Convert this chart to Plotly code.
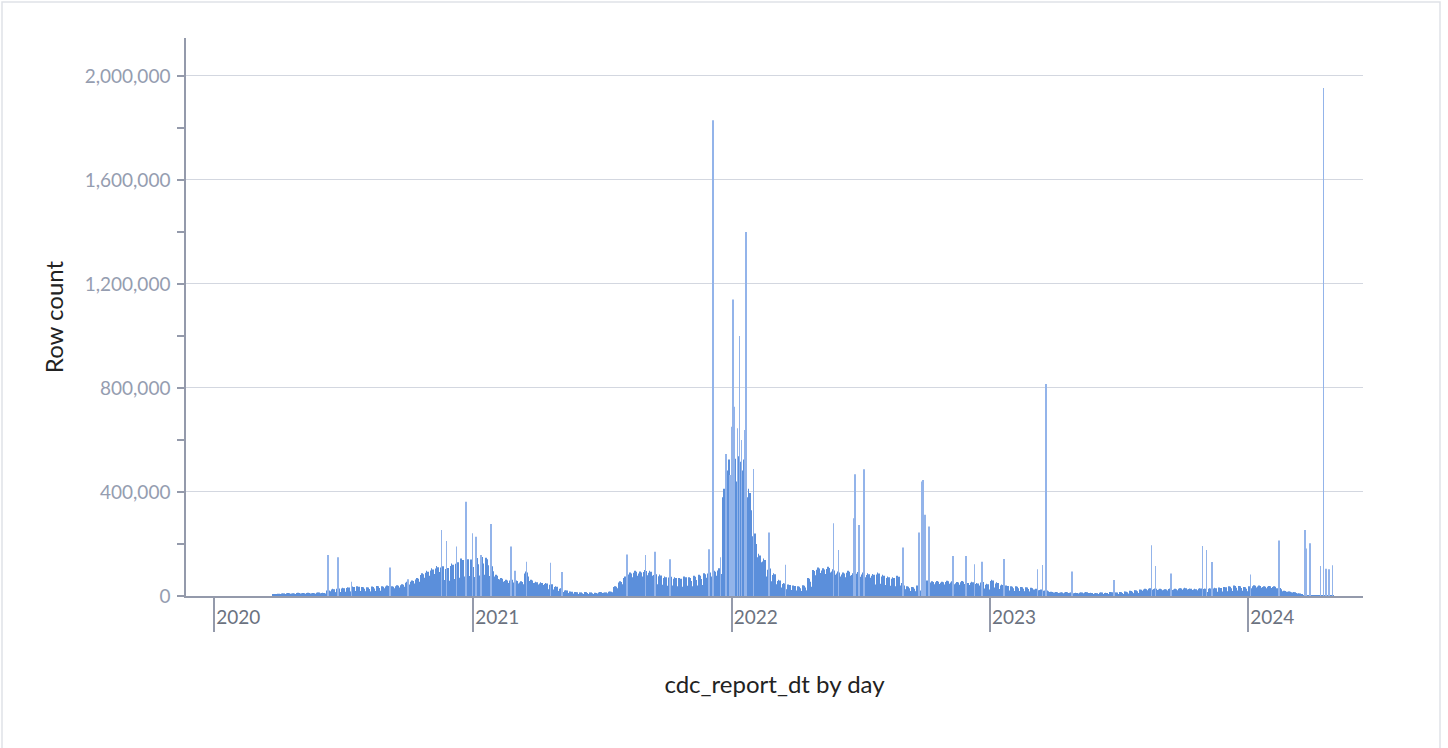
import pandas as pd
import plotly.graph_objects as go

# ---- data ----
week_start = "2020-03-23"  # a Monday
weekly_values = [
    # 2020 Mar-Dec
    4000, 7000,
    8000, 9000, 8000, 10000,
    9000, 10000, 9000, 11000,
    10000, 18000, 22000, 24000, 25000,
    27000, 29000, 30000, 28000,
    27000, 29000, 31000, 30000, 32000,
    30000, 33000, 36000, 44000,
    48000, 55000, 70000, 78000,
    85000, 92000, 95000, 90000, 100000,
    108000, 115000, 118000, 112000,
    # 2021
    122000, 125000, 118000, 95000,
    65000, 55000, 50000, 52000,
    48000, 45000, 75000, 50000, 44000,
    42000, 40000, 38000, 30000,
    24000, 18000, 14000, 12000, 11000,
    12000, 11000, 10000, 12000,
    11000, 14000, 30000, 45000,
    60000, 72000, 78000, 75000, 80000,
    78000, 70000, 66000, 60000,
    62000, 58000, 55000, 60000,
    58000, 62000, 65000, 70000, 75000,
    78000, 85000, 330000, 420000,
    # 2022
    440000, 430000, 420000, 330000, 200000,
    130000, 115000, 88000, 70000,
    50000, 40000, 35000, 32000,
    30000, 33000, 55000, 80000,
    88000, 85000, 90000, 82000, 75000,
    72000, 78000, 70000, 74000,
    72000, 70000, 68000, 72000,
    65000, 60000, 58000, 62000, 40000,
    30000, 28000, 32000, 45000,
    48000, 45000, 46000, 44000, 47000,
    45000, 43000, 46000, 42000,
    44000, 40000, 45000, 38000,
    # 2023
    50000, 42000, 35000, 32000, 30000,
    30000, 28000, 27000, 25000,
    22000, 20000, 18000, 13000,
    12000, 11000, 12000, 11000,
    10000, 11000, 12000, 10000, 9000,
    11000, 10000, 12000, 11000,
    12000, 14000, 16000, 18000, 20000,
    22000, 24000, 23000, 22000,
    21000, 23000, 22000, 24000,
    25000, 23000, 22000, 24000, 23000,
    24000, 25000, 26000, 28000,
    30000, 32000, 31000, 28000,
    # 2024
    30000, 33000, 32000, 30000, 31000,
    30000, 26000, 16000, 14000,
    12000, 8000, 3000, 2500,
    2000, 2500, 2000, 2500, 2000,
]
# typical weekday profile (Mon..Sun), relative to the weekly level
weekday_factor = [1.15, 1.25, 1.1, 1.2, 1.0, 0.65, 0.6]
last_day = "2024-04-30"

spike_dates = [
    "2020-06-10", "2020-06-24", "2020-07-13", "2020-09-05", "2020-10-01",
    "2020-11-17", "2020-11-24", "2020-12-08", "2020-12-22", "2020-12-31",
    "2021-01-05", "2021-01-12", "2021-01-26", "2021-02-23", "2021-03-01",
    "2021-03-17", "2021-04-20", "2021-05-06", "2021-08-06", "2021-09-01",
    "2021-09-15", "2021-10-06", "2021-11-30", "2021-12-06", "2021-12-16",
    "2021-12-24", "2021-12-30", "2022-01-01", "2022-01-03", "2022-01-04",
    "2022-01-09", "2022-01-12", "2022-01-15", "2022-01-20", "2022-01-21",
    "2022-02-01", "2022-02-23", "2022-03-18", "2022-05-25", "2022-06-01",
    "2022-06-23", "2022-06-24", "2022-06-30", "2022-07-07", "2022-08-31",
    "2022-09-23", "2022-09-27", "2022-09-28", "2022-10-01", "2022-10-07",
    "2022-11-10", "2022-11-28", "2022-12-10", "2022-12-21", "2023-01-21",
    "2023-03-09", "2023-03-16", "2023-03-21", "2023-04-27", "2023-06-25",
    "2023-08-17", "2023-08-23", "2023-09-14", "2023-10-28", "2023-11-03",
    "2023-11-11", "2024-01-04", "2024-02-13", "2024-03-21", "2024-03-23",
    "2024-03-28", "2024-04-12", "2024-04-16", "2024-04-20", "2024-04-24",
    "2024-04-29",
]
spike_values = [
    158000, 149000, 55000, 110000, 64000,
    254000, 212000, 190000, 362000, 241000,
    228000, 158000, 277000, 190000, 97000,
    132000, 128000, 92000, 160000, 158000,
    170000, 141000, 180000, 1830000, 149000,
    546000, 465000, 651000, 1140000, 728000,
    645000, 1000000, 600000, 638000, 1400000,
    488000, 244000, 120000, 280000, 177000,
    299000, 468000, 273000, 487000, 187000,
    244000, 440000, 446000, 312000, 267000,
    154000, 154000, 122000, 132000, 142000,
    103000, 119000, 815000, 94000, 62000,
    195000, 115000, 87000, 192000, 177000,
    131000, 83000, 213000, 254000, 183000,
    203000, 115000, 1954000, 105000, 103000,
    118000,
]

y_tick_values = [0, 400000, 800000, 1200000, 1600000, 2000000]
x_tick_values = ["2020-01-01", "2021-01-01", "2022-01-01", "2023-01-01", "2024-01-01"]
x_tick_labels = ["2020", "2021", "2022", "2023", "2024"]

# ---- build daily series ----
start = pd.Timestamp(week_start)
spike_set = {pd.Timestamp(d) for d in spike_dates}
base_x, base_y = [], []
for d in pd.date_range(week_start, last_day, freq="D"):
    off = (d - start).days
    idx = off // 7
    if idx < len(weekly_values) and d not in spike_set:
        base_x.append(d)
        base_y.append(round(weekly_values[idx] * weekday_factor[off % 7]))

fig = go.Figure()
fig.add_trace(go.Bar(
    x=base_x, y=base_y,
    marker=dict(color="#5b8fdb", line=dict(width=0)),
    hovertemplate="%{x|%b %d, %Y}<br>%{y:,}<extra></extra>",
))
fig.add_trace(go.Bar(
    x=pd.to_datetime(spike_dates), y=spike_values,
    marker=dict(color="#93b4ea", line=dict(width=0)),
    hovertemplate="%{x|%b %d, %Y}<br>%{y:,}<extra></extra>",
))

axis_col = "#949aab"
fig.update_layout(
    width=1448,
    height=748,
    margin=dict(l=186, r=85, t=38, b=152),
    paper_bgcolor="white",
    plot_bgcolor="white",
    barmode="overlay",
    bargap=0.05,
    showlegend=False,
    font=dict(family="Lato", size=19, color="#949aab"),
    xaxis=dict(
        type="date",
        range=["2019-11-22", "2024-06-11"],
        tickvals=x_tick_values,
        ticktext=x_tick_labels,
        ticks="outside",
        ticklen=34,
        tickwidth=1.5,
        tickcolor=axis_col,
        tickfont=dict(color="#6b7280", size=19),
        ticklabelshift=24,
        ticklabelstandoff=-31,
        showline=True,
        linecolor=axis_col,
        linewidth=1.5,
        showgrid=False,
        zeroline=False,
        title=dict(text="cdc_report_dt by day", font=dict(color="#222222", size=24), standoff=50),
    ),
    yaxis=dict(
        range=[0, 2146000],
        tickvals=y_tick_values,
        tickformat=",d",
        ticks="outside",
        ticklen=7,
        tickwidth=1.5,
        tickcolor=axis_col,
        tickfont=dict(color="#959db0", size=19),
        ticklabelstandoff=3,
        showline=True,
        linecolor=axis_col,
        linewidth=1.5,
        showgrid=True,
        gridcolor="#d3d7e0",
        gridwidth=1.2,
        zeroline=False,
        minor=dict(dtick=200000, tick0=0, ticks="outside", ticklen=7, tickcolor=axis_col, tickwidth=1.5, showgrid=False),
        title=dict(text="Row count", font=dict(color="#222222", size=24), standoff=14),
    ),
    shapes=[
        dict(
            type="rect", xref="paper", yref="paper",
            x0=(2 - 186) / 1177, x1=(1440 - 186) / 1177,
            y0=-0.3, y1=1 + 36 / 558,
            line=dict(color="#dfe2e8", width=1.5),
            fillcolor="rgba(0,0,0,0)", layer="below",
        )
    ],
)

fig.write_html(
    "out.html",
    config={"displayModeBar": False},
    post_script="document.body.style.margin='0';",
)
